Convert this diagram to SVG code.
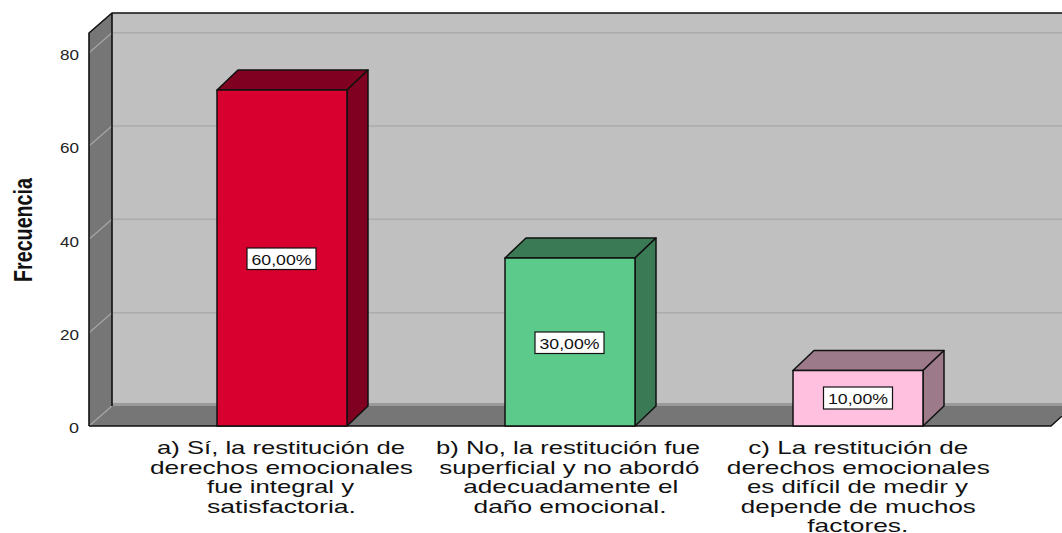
<svg xmlns="http://www.w3.org/2000/svg" width="1062" height="533" viewBox="0 0 1062 533">
<style>
  .grid{stroke:#ababab;stroke-width:1.5;fill:none}
  .sgrid{stroke:#a6a6a6;stroke-width:1.2;fill:none}
  .edge{stroke:#111;stroke-width:1.6;fill:none;stroke-linejoin:round}
  .bar{stroke:#111;stroke-width:1.5;stroke-linejoin:round}
  .tick{font-family:"Liberation Sans",Arial,sans-serif;font-size:14px;fill:#222;text-anchor:end}
  .cat{font-family:"Liberation Sans",Arial,sans-serif;font-size:19px;fill:#111;text-anchor:middle}
  .pct{font-family:"Liberation Sans",Arial,sans-serif;font-size:15px;fill:#111;text-anchor:middle}
  .lbox{fill:#fff;stroke:#111;stroke-width:1.2}
  .ytitle{font-family:"Liberation Sans",Arial,sans-serif;font-size:25px;font-weight:bold;fill:#111;text-anchor:middle}
</style>
<rect width="1062" height="533" fill="#ffffff"/>
<g id="frame">
  <rect x="112" y="13" width="950" height="393" fill="#c0c0c0"/>
  <polygon points="89,33 112,13 112,406 89,426" fill="#767676"/>
  <polygon points="89,426 112,406 1062,406 1062,415 1051,426" fill="#767676"/>
  <line x1="112" y1="404.5" x2="1062" y2="404.5" stroke="#9a9a9a" stroke-width="3"/>
  <line class="grid" x1="112" y1="312.7" x2="1062" y2="312.7"/>
  <line class="grid" x1="112" y1="219.3" x2="1062" y2="219.3"/>
  <line class="grid" x1="112" y1="126" x2="1062" y2="126"/>
  <line class="grid" x1="112" y1="32.7" x2="1062" y2="32.7"/>
  <line class="sgrid" x1="89" y1="426" x2="112" y2="406"/>
  <line class="sgrid" x1="89" y1="332.7" x2="112" y2="312.7"/>
  <line class="sgrid" x1="89" y1="239.3" x2="112" y2="219.3"/>
  <line class="sgrid" x1="89" y1="146" x2="112" y2="126"/>
  <line class="sgrid" x1="89" y1="52.7" x2="112" y2="32.7"/>
  <polyline class="edge" points="89,426 89,33 112,13 1062,13"/>
  <line class="edge" x1="112" y1="13" x2="112" y2="406"/>
  <polyline class="edge" points="89,426 1051,426 1062,416"/>
</g>
<g id="axis">
  <text class="tick" x="79" y="60" textLength="19" lengthAdjust="spacingAndGlyphs">80</text>
  <text class="tick" x="79" y="153" textLength="19" lengthAdjust="spacingAndGlyphs">60</text>
  <text class="tick" x="79" y="246.5" textLength="19" lengthAdjust="spacingAndGlyphs">40</text>
  <text class="tick" x="79" y="340" textLength="19" lengthAdjust="spacingAndGlyphs">20</text>
  <text class="tick" x="79" y="433" textLength="10" lengthAdjust="spacingAndGlyphs">0</text>
  <text class="ytitle" transform="translate(32,230) rotate(-90)" x="0" y="0" textLength="104" lengthAdjust="spacingAndGlyphs">Frecuencia</text>
</g>
<g id="bar-a">
  <polygon class="bar" points="217,90 238,70 368,70 347,90" fill="#7f0020"/>
  <polygon class="bar" points="347,90 368,70 368,406 347,426" fill="#7f0020"/>
  <rect class="bar" x="217" y="90" width="130" height="336" fill="#d7002f"/>
  <rect class="lbox" x="247" y="248" width="69" height="21.5"/>
  <text class="pct" x="281.5" y="264.5" textLength="60" lengthAdjust="spacingAndGlyphs">60,00%</text>
</g>
<g id="bar-b">
  <polygon class="bar" points="505,258 526,238 656,238 635,258" fill="#3a7a55"/>
  <polygon class="bar" points="635,258 656,238 656,406 635,426" fill="#3a7a55"/>
  <rect class="bar" x="505" y="258" width="130" height="168" fill="#5bca8b"/>
  <rect class="lbox" x="535" y="332" width="69" height="21.5"/>
  <text class="pct" x="569.5" y="348.5" textLength="60" lengthAdjust="spacingAndGlyphs">30,00%</text>
</g>
<g id="bar-c">
  <polygon class="bar" points="793,370.5 814,350.5 944,350.5 923,370.5" fill="#9c7a8a"/>
  <polygon class="bar" points="923,370.5 944,350.5 944,406 923,426" fill="#9c7a8a"/>
  <rect class="bar" x="793" y="370.5" width="130" height="55.5" fill="#ffc0e0"/>
  <rect class="lbox" x="823.5" y="387" width="69" height="22"/>
  <text class="pct" x="858" y="403.5" textLength="60" lengthAdjust="spacingAndGlyphs">10,00%</text>
</g>
<g id="labels">
  <text class="cat" x="281" y="454" textLength="248" lengthAdjust="spacingAndGlyphs">a) Sí, la restitución de</text>
  <text class="cat" x="281.5" y="473.7" textLength="263" lengthAdjust="spacingAndGlyphs">derechos emocionales</text>
  <text class="cat" x="280.5" y="493.4" textLength="147" lengthAdjust="spacingAndGlyphs">fue integral y</text>
  <text class="cat" x="281.5" y="513" textLength="149" lengthAdjust="spacingAndGlyphs">satisfactoria.</text>

  <text class="cat" x="568" y="454" textLength="264" lengthAdjust="spacingAndGlyphs">b) No, la restitución fue</text>
  <text class="cat" x="569.3" y="473.7" textLength="260" lengthAdjust="spacingAndGlyphs">superficial y no abordó</text>
  <text class="cat" x="570.8" y="493.4" textLength="215" lengthAdjust="spacingAndGlyphs">adecuadamente el</text>
  <text class="cat" x="570" y="513" textLength="193" lengthAdjust="spacingAndGlyphs">daño emocional.</text>

  <text class="cat" x="858.3" y="454" textLength="220" lengthAdjust="spacingAndGlyphs">c) La restitución de</text>
  <text class="cat" x="858.3" y="473.7" textLength="263" lengthAdjust="spacingAndGlyphs">derechos emocionales</text>
  <text class="cat" x="857.5" y="493.4" textLength="221" lengthAdjust="spacingAndGlyphs">es difícil de medir y</text>
  <text class="cat" x="858.3" y="513" textLength="235" lengthAdjust="spacingAndGlyphs">depende de muchos</text>
  <text class="cat" x="857.8" y="531.5" textLength="101" lengthAdjust="spacingAndGlyphs">factores.</text>
</g>
</svg>
